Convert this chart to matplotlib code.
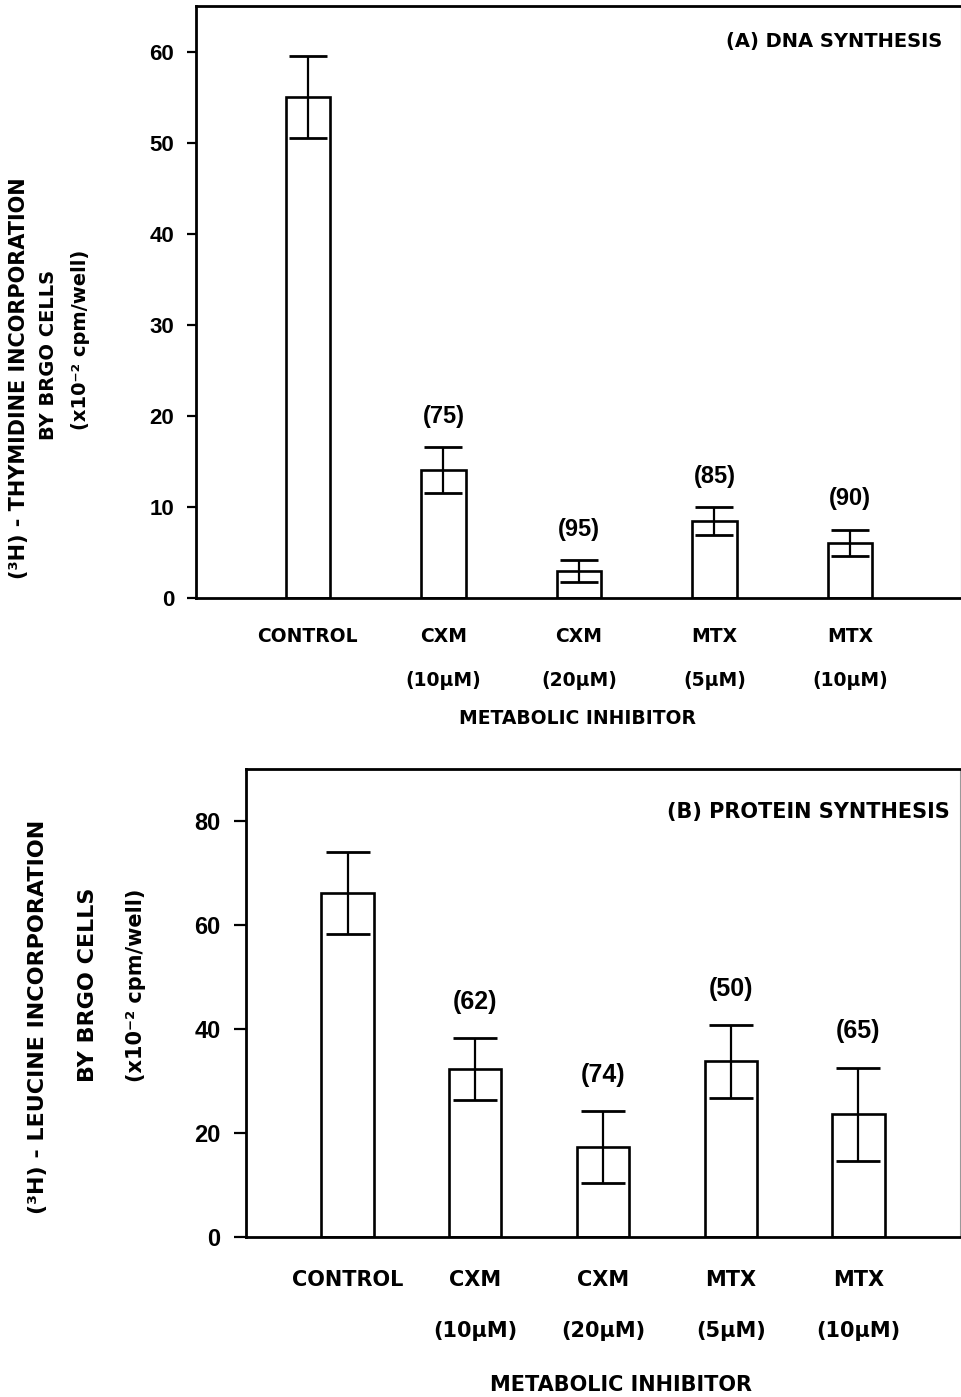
import matplotlib.pyplot as plt
import numpy as np

W, H = 962, 1397

categories = ["CONTROL", "CXM", "CXM", "MTX", "MTX"]
doses = ["", "(10μM)", "(20μM)", "(5μM)", "(10μM)"]

# (A) DNA synthesis, x10^-2 cpm/well
dna_mean = [55.0, 14.1, 3.0, 8.5, 6.1]
dna_err = [4.5, 2.5, 1.25, 1.5, 1.45]
dna_inhib = ["", "(75)", "(95)", "(85)", "(90)"]

# (B) protein synthesis, x10^-2 cpm/well
prot_mean = [66.2, 32.3, 17.3, 33.8, 23.6]
prot_err = [7.9, 6.0, 7.0, 7.0, 9.0]
prot_inhib = ["", "(62)", "(74)", "(50)", "(65)"]

TXT = "DejaVu Sans"
NUM = ["Liberation Sans Narrow", "Liberation Sans", "DejaVu Sans"]
TICK = ["Liberation Sans", "DejaVu Sans"]


def fx(x):
    return x / W


def fy(y):
    return 1 - y / H


def draw_panel(ax, means, errs, inhib, width, xlim, ylim, yticks, cap, tfs,
               numfs, ticklen, xpad, lblfs, off, lsp, title, title_pos, title_fs):
    x = np.arange(len(means))
    ax.bar(x, means, width=width, color="white", edgecolor="black",
           linewidth=1.9, zorder=2)
    ax.errorbar(x, means, yerr=errs, fmt="none", ecolor="black",
                elinewidth=1.6, capsize=cap, capthick=2.0, zorder=3)
    for i, t in enumerate(inhib):
        if t:
            ax.annotate(t, (x[i], means[i] + errs[i]), xytext=(0, off),
                        textcoords="offset points", ha="center", va="center",
                        fontsize=lblfs, fontweight="bold", family=NUM)
    ax.set_xlim(*xlim)
    ax.set_ylim(*ylim)
    ax.set_yticks(yticks)
    ax.set_yticklabels([str(v) for v in yticks], fontsize=numfs,
                       fontweight="bold", family=TICK)
    labels = [c if not d else c + "\n" + d for c, d in zip(categories, doses)]
    ax.set_xticks(x)
    ax.set_xticklabels(labels, fontsize=tfs, fontweight="bold", family=TXT,
                       linespacing=lsp, va="top")
    ax.tick_params(axis="x", length=0, pad=xpad)
    ax.tick_params(axis="y", length=ticklen, width=1.6, pad=9,
                   direction="out")
    for s in ["left", "bottom", "top"]:
        ax.spines[s].set_linewidth(2.0)
    ax.spines["right"].set_linewidth(0.8)
    ax.spines["right"].set_color("0.6")
    ax.text(title_pos[0], title_pos[1], title, transform=ax.transAxes,
            ha="right", va="center", fontsize=title_fs, fontweight="bold",
            family=TXT)


fig = plt.figure(figsize=(W / 100, H / 100), dpi=100)

axA = fig.add_axes([fx(195.7), fy(598.3), (961 - 195.7) / W, (598.3 - 6) / H])
draw_panel(axA, dna_mean, dna_err, dna_inhib, 0.33, (-0.828, 4.82), (0, 65),
           [0, 10, 20, 30, 40, 50, 60], 14, 13.5, 16, 6.5, 21, 17, 22, 2.62,
           "(A) DNA SYNTHESIS", (0.976, 0.940), 14)

axB = fig.add_axes([fx(245.7), fy(1237), (960 - 245.7) / W, (1237 - 769.3) / H])
draw_panel(axB, prot_mean, prot_err, prot_inhib, 0.41, (-0.797, 4.795), (0, 90),
           [0, 20, 40, 60, 80], 15.5, 15, 17, 9, 24, 18, 26, 2.92,
           "(B) PROTEIN SYNTHESIS", (0.985, 0.908), 15)

# x-axis titles
fig.text(fx(578), fy(718), "METABOLIC INHIBITOR", ha="center", va="center",
         fontsize=13.5, fontweight="bold", family=TXT)
fig.text(fx(621), fy(1385), "METABOLIC INHIBITOR", ha="center", va="center",
         fontsize=15, fontweight="bold", family=TXT)

# y-axis titles (three lines each)
ylab_a = [("(³H) - THYMIDINE INCORPORATION", 19, 378, 15),
          ("BY BRGO CELLS", 49, 355, 14),
          ("(x10⁻² cpm/well)", 81, 340, 14)]
ylab_b = [("(³H) - LEUCINE INCORPORATION", 38, 1017, 16),
          ("BY BRGO CELLS", 88, 985, 16),
          ("(x10⁻² cpm/well)", 136, 985, 15)]
for txt, xp, yp, fs in ylab_a + ylab_b:
    fig.text(fx(xp), fy(yp), txt, rotation=90, ha="center", va="center",
             fontsize=fs, fontweight="bold", family=TXT)

fig.savefig("out.png", dpi=100)
